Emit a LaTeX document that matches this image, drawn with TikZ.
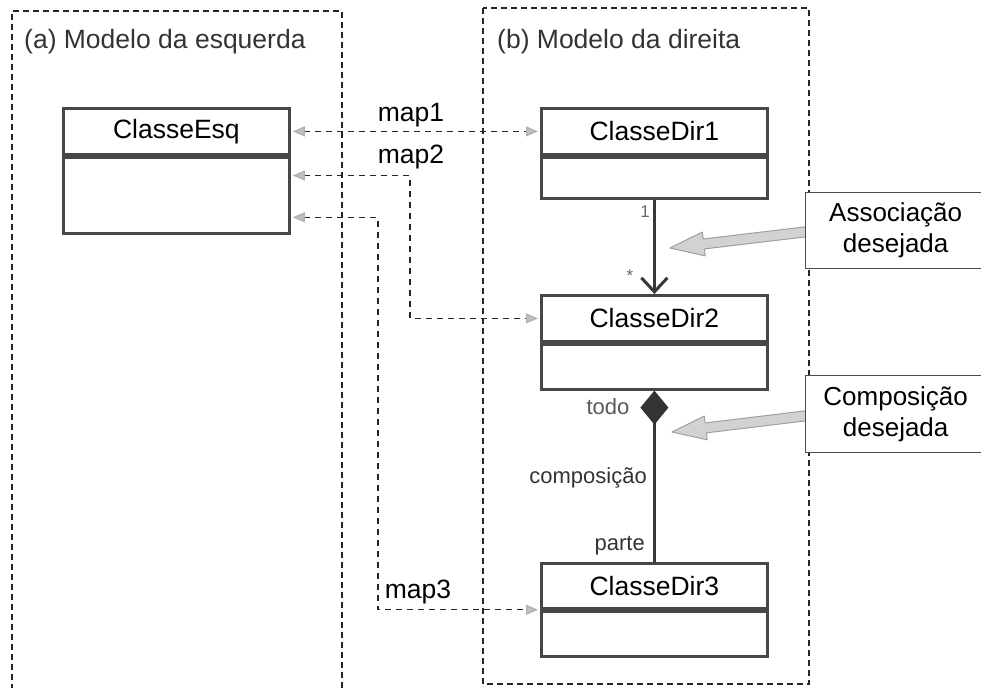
\documentclass[tikz,border=0pt]{standalone}
\usepackage{fontspec}
\setmainfont{Liberation Sans}
\usetikzlibrary{arrows.meta,calc}

\begin{document}
\begin{tikzpicture}[x=1pt,y=-1pt,
  frame/.style={draw=black!85, line width=1.3pt, dash pattern=on 6pt off 4pt},
  hdr/.style={draw=black!72, line width=2.8pt, minimum width=226pt, minimum height=46pt,
    inner sep=0pt, font=\fontsize{26.5}{31}\selectfont},
  bdy/.style={draw=black!72, line width=2.8pt, minimum width=226pt, inner sep=0pt},
  maptip/.tip={Triangle[length=12pt,width=10pt,fill=gray!50,color=gray!60]},
  map/.style={draw=black!85, line width=1.3pt, dash pattern=on 6pt off 5pt,
    arrows={maptip-maptip}, shorten <=2pt, shorten >=2pt},
  title/.style={anchor=west, inner sep=0pt, font=\fontsize{26.5}{31}\selectfont, text=black!80},
  lbl/.style={inner sep=0pt, font=\fontsize{26.5}{31}\selectfont},
  small/.style={inner sep=0pt, font=\fontsize{22}{26}\selectfont, text=black!80},
  mult/.style={inner sep=0pt, font=\fontsize{17}{19}\selectfont, text=black!60},
  assoc/.style={draw=black!78, line width=3pt, arrows={-Straight Barb[length=14pt,width=26pt]}},
  comp/.style={draw=black!78, line width=3pt, arrows={Diamond[length=34pt,width=28pt,fill=black!80,color=black!80]-}},
  callout/.style={draw=black!70, fill=white, line width=1.3pt, anchor=north west,
    minimum width=180pt, align=center, inner sep=0pt, font=\fontsize{26}{31}\selectfont},
  hollow/.style={draw=gray!75, fill=gray!35, line width=1pt, line join=round}
]
\useasboundingbox (0,0) rectangle (981,687);
\clip (0,0) rectangle (981,687);

% package frames
\draw[frame] (12,700) -- (12,11) -- (342,11) -- (342,700);
\draw[frame] (483,8) rectangle (809,684);
\node[title] (tl) at (24,42) {(a) Modelo da esquerda};
\node[title] (tr) at (497,42) {(b) Modelo da direita};

% classes
\node[hdr, anchor=north west] (esq) at (62,107) {ClasseEsq};
\node[bdy, anchor=north, minimum height=76pt] (esqb) at (esq.south) {};
\node[hdr, anchor=north west] (dir1) at (540,107) {ClasseDir1};
\node[bdy, anchor=north, minimum height=41pt] (dir1b) at (dir1.south) {};
\node[hdr, anchor=north west] (dir2) at (540,294) {ClasseDir2};
\node[bdy, anchor=north, minimum height=45pt] (dir2b) at (dir2.south) {};
\node[hdr, anchor=north west, minimum height=45pt] (dir3) at (540,562) {ClasseDir3};
\node[bdy, anchor=north, minimum height=45pt] (dir3b) at (dir3.south) {};

% mappings
\coordinate (p2) at ($(esqb.north east)!0.25!(esqb.south east)$);
\coordinate (p3) at ($(esqb.north east)!0.78!(esqb.south east)$);
\coordinate (k2) at (410,0);
\coordinate (k3) at (378,0);
\draw[map] (esq.east) -- (dir1.west);
\draw[map] (p2) -- (p2 -| k2) |- (dir2.west);
\draw[map] (p3) -- (p3 -| k3) |- (dir3.south west);
\node[lbl] (l1) at (411,115) {map1};
\node[lbl] (l2) at (411,157) {map2};
\node[lbl] (l3) at (418,592) {map3};

% association and composition
\draw[assoc] (dir1b.south) -- (dir2.north);
\node[mult] (one) at (645,212) {1};
\node[mult] (many) at (630,276) {*};
\draw[comp] (dir2b.south) -- (dir3.north);
\node[small, text=black!65] (todo) at (608,407) {todo};
\node[small, anchor=east] (cmp) at (647,478) {composição};
\node[small, anchor=east] (prt) at (645,546) {parte};

% notes with pointing arrows
\coordinate (ta) at (670,248);
\coordinate (tb) at (672,432);
\begin{scope}[shift={(ta)}, rotate=6.8]
  \draw[hollow] (0,0) -- (34,-12) -- (34,-5) -- (150,-5) -- (150,5) -- (34,5) -- (34,12) -- cycle;
\end{scope}
\begin{scope}[shift={(tb)}, rotate=6.9]
  \draw[hollow] (0,0) -- (34,-12) -- (34,-5) -- (150,-5) -- (150,5) -- (34,5) -- (34,12) -- cycle;
\end{scope}
\node[callout, minimum height=76pt] (ca) at (805,192) {Associação\\desejada};
\node[callout, minimum height=77pt] (cb) at (805,375) {Composição\\desejada};
\end{tikzpicture}
\end{document}
